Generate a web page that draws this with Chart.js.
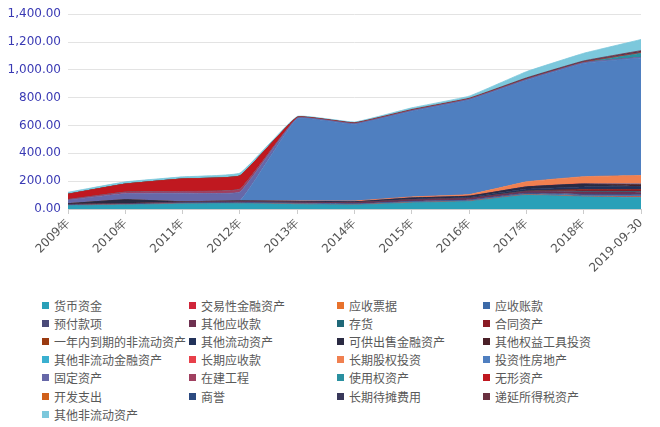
<!DOCTYPE html>
<html>
<head>
<meta charset="utf-8">
<script src="https://cdn.jsdelivr.net/npm/chart.js@4"></script>
<style>
  body { margin: 0; background: #fff; width: 660px; height: 427px; overflow: hidden; position: relative; }
  #wrap { position: absolute; left: 0; top: 0; width: 660px; height: 290px; }
  #legend { position: absolute; left: 42px; top: 296px; width: 600px; display: grid;
    grid-template-columns: 147px 148px 146px 150px; grid-auto-rows: 18.2px;
    font-family: "Noto Sans CJK SC", sans-serif; font-size: 12px; color: #595959; }
  #legend div { display: flex; align-items: center; white-space: nowrap; }
  #legend span.box { display: inline-block; width: 7px; height: 7px; margin-right: 5px; }
</style>
</head>
<body>
<div id="wrap"><canvas id="grafico" width="660" height="290"></canvas></div>
<div id="legend"></div>
<script>
const categorias = ['2009年', '2010年', '2011年', '2012年', '2013年', '2014年', '2015年', '2016年', '2017年', '2018年', '2019-09-30'];
const yTicks = [0, 200, 400, 600, 800, 1000, 1200, 1400];

const huobiZijin      = [25, 30, 38, 40, 35, 30, 45, 55, 100, 88, 84];
const jiaoyiJinrong   = [0, 0, 0, 0, 0, 0, 0, 0, 0, 0, 3];
const yingshouPiaoju  = [0, 0, 0, 0, 0, 0, 1, 1, 2, 3, 3];
const yingshouZhang   = [2, 2, 3, 3, 5, 5, 5, 5, 5, 8, 8];
const yufuKuan        = [3, 3, 4, 5, 3, 3, 5, 5, 8, 8, 8];
const qitaYingshou    = [3, 3, 5, 5, 6, 8, 10, 10, 10, 15, 15];
const cunhuo          = [0, 0, 0, 0, 0, 0, 0, 0, 3, 5, 5];
const hetongZichan    = [0, 0, 0, 0, 0, 0, 0, 0, 0, 10, 12];
const yinianDaoqi     = [0, 0, 0, 0, 0, 0, 0, 0, 0, 2, 2];
const qitaLiudong     = [0, 0, 0, 0, 5, 5, 5, 8, 15, 20, 20];
const kegongChushou   = [5, 28, 2, 5, 0, 0, 8, 8, 15, 20, 0];
const qitaQuanyi      = [0, 0, 0, 0, 0, 0, 0, 0, 0, 0, 15];
const qitaFeiJinrong  = [0, 0, 0, 0, 0, 0, 0, 0, 0, 0, 5];
const changqiYingshou = [0, 0, 0, 0, 0, 2, 2, 2, 2, 3, 3];
const changqiGuquan   = [0, 0, 0, 0, 4, 5, 6, 10, 35, 50, 58];
const touziFangdichan = [0, 0, 0, 0, 590, 550, 615, 679, 730, 814, 844];
const gudingZichan    = [25, 45, 62, 65, 5, 5, 5, 5, 5, 5, 5];
const zaijianGongcheng = [5, 10, 12, 20, 0, 0, 0, 0, 0, 0, 0];
const shiyongQuan     = [0, 0, 0, 0, 0, 0, 0, 0, 0, 0, 30];
const wuxingZichan    = [38, 58, 90, 95, 5, 3, 3, 3, 3, 3, 3];
const kaifaZhichu     = [0, 0, 0, 0, 0, 0, 0, 0, 0, 0, 0];
const shangyu         = [0, 0, 0, 0, 0, 0, 0, 0, 2, 2, 2];
const changqiDaitan   = [0, 0, 0, 0, 0, 0, 0, 0, 2, 2, 3];
const diyanSuodeshui  = [0, 0, 0, 0, 2, 4, 5, 5, 5, 6, 10];
const qitaFeiLiudong  = [14, 16, 15, 20, 5, 5, 12, 15, 45, 55, 80];

const nombres = ['货币资金', '交易性金融资产', '应收票据', '应收账款', '预付款项', '其他应收款', '存货', '合同资产',
  '一年内到期的非流动资产', '其他流动资产', '可供出售金融资产', '其他权益工具投资', '其他非流动金融资产', '长期应收款',
  '长期股权投资', '投资性房地产', '固定资产', '在建工程', '使用权资产', '无形资产', '开发支出', '商誉', '长期待摊费用',
  '递延所得税资产', '其他非流动资产'];
const valores = [huobiZijin, jiaoyiJinrong, yingshouPiaoju, yingshouZhang, yufuKuan, qitaYingshou, cunhuo, hetongZichan,
  yinianDaoqi, qitaLiudong, kegongChushou, qitaQuanyi, qitaFeiJinrong, changqiYingshou, changqiGuquan, touziFangdichan,
  gudingZichan, zaijianGongcheng, shiyongQuan, wuxingZichan, kaifaZhichu, shangyu, changqiDaitan, diyanSuodeshui, qitaFeiLiudong];
const colores = ['#2aa0b8', '#d0253a', '#e8722c', '#3c6aa8', '#4a4a78', '#6e3050', '#1f6878', '#8a1a24',
  '#9a3a10', '#22325a', '#2a2a42', '#4a2028', '#3ab0d0', '#e8404a', '#f08050', '#4f7fc0',
  '#6668a8', '#a04060', '#2a90a0', '#c01820', '#d0601a', '#2c4a80', '#38385a', '#6a3040', '#7cc8dc'];

const datasets = nombres.map((n, i) => ({
  label: n,
  data: valores[i],
  backgroundColor: colores[i],
  borderColor: colores[i],
  borderWidth: 0.8,
  pointRadius: 0,
  tension: 0.1,
  fill: i === 0 ? 'origin' : '-1'
}));

new Chart(document.getElementById('grafico'), {
  type: 'line',
  data: { labels: categorias, datasets: datasets },
  options: {
    responsive: false,
    animation: false,
    layout: { padding: { top: 6, right: 19, left: 0, bottom: 0 } },
    plugins: { legend: { display: false }, tooltip: { enabled: false } },
    scales: {
      x: {
        offset: false,
        afterFit: s => { s.height = 81; },
        grid: { drawOnChartArea: false, drawTicks: true, tickLength: 5, color: '#cccccc' },
        border: { display: true, color: '#cccccc' },
        ticks: {
          autoSkip: false, maxRotation: 45, minRotation: 45, padding: 2,
          color: '#555555', font: { family: 'DejaVu Sans', size: 12 }
        }
      },
      y: {
        stacked: true,
        min: 0,
        max: 1400,
        afterFit: s => { s.width = 68; },
        afterBuildTicks: s => { s.ticks = yTicks.map(v => ({ value: v })); },
        grid: { color: '#e3e3e3', drawTicks: false },
        border: { display: false },
        ticks: {
          padding: 7,
          color: '#3a3ab4',
          font: { family: 'DejaVu Sans', size: 12 },
          callback: v => v.toLocaleString('en-US', { minimumFractionDigits: 2, maximumFractionDigits: 2 })
        }
      }
    }
  }
});

const leyenda = document.getElementById('legend');
nombres.forEach((n, i) => {
  const d = document.createElement('div');
  d.innerHTML = '<span class="box" style="background:' + colores[i] + '"></span>' + n;
  leyenda.appendChild(d);
});
</script>
</body>
</html>
